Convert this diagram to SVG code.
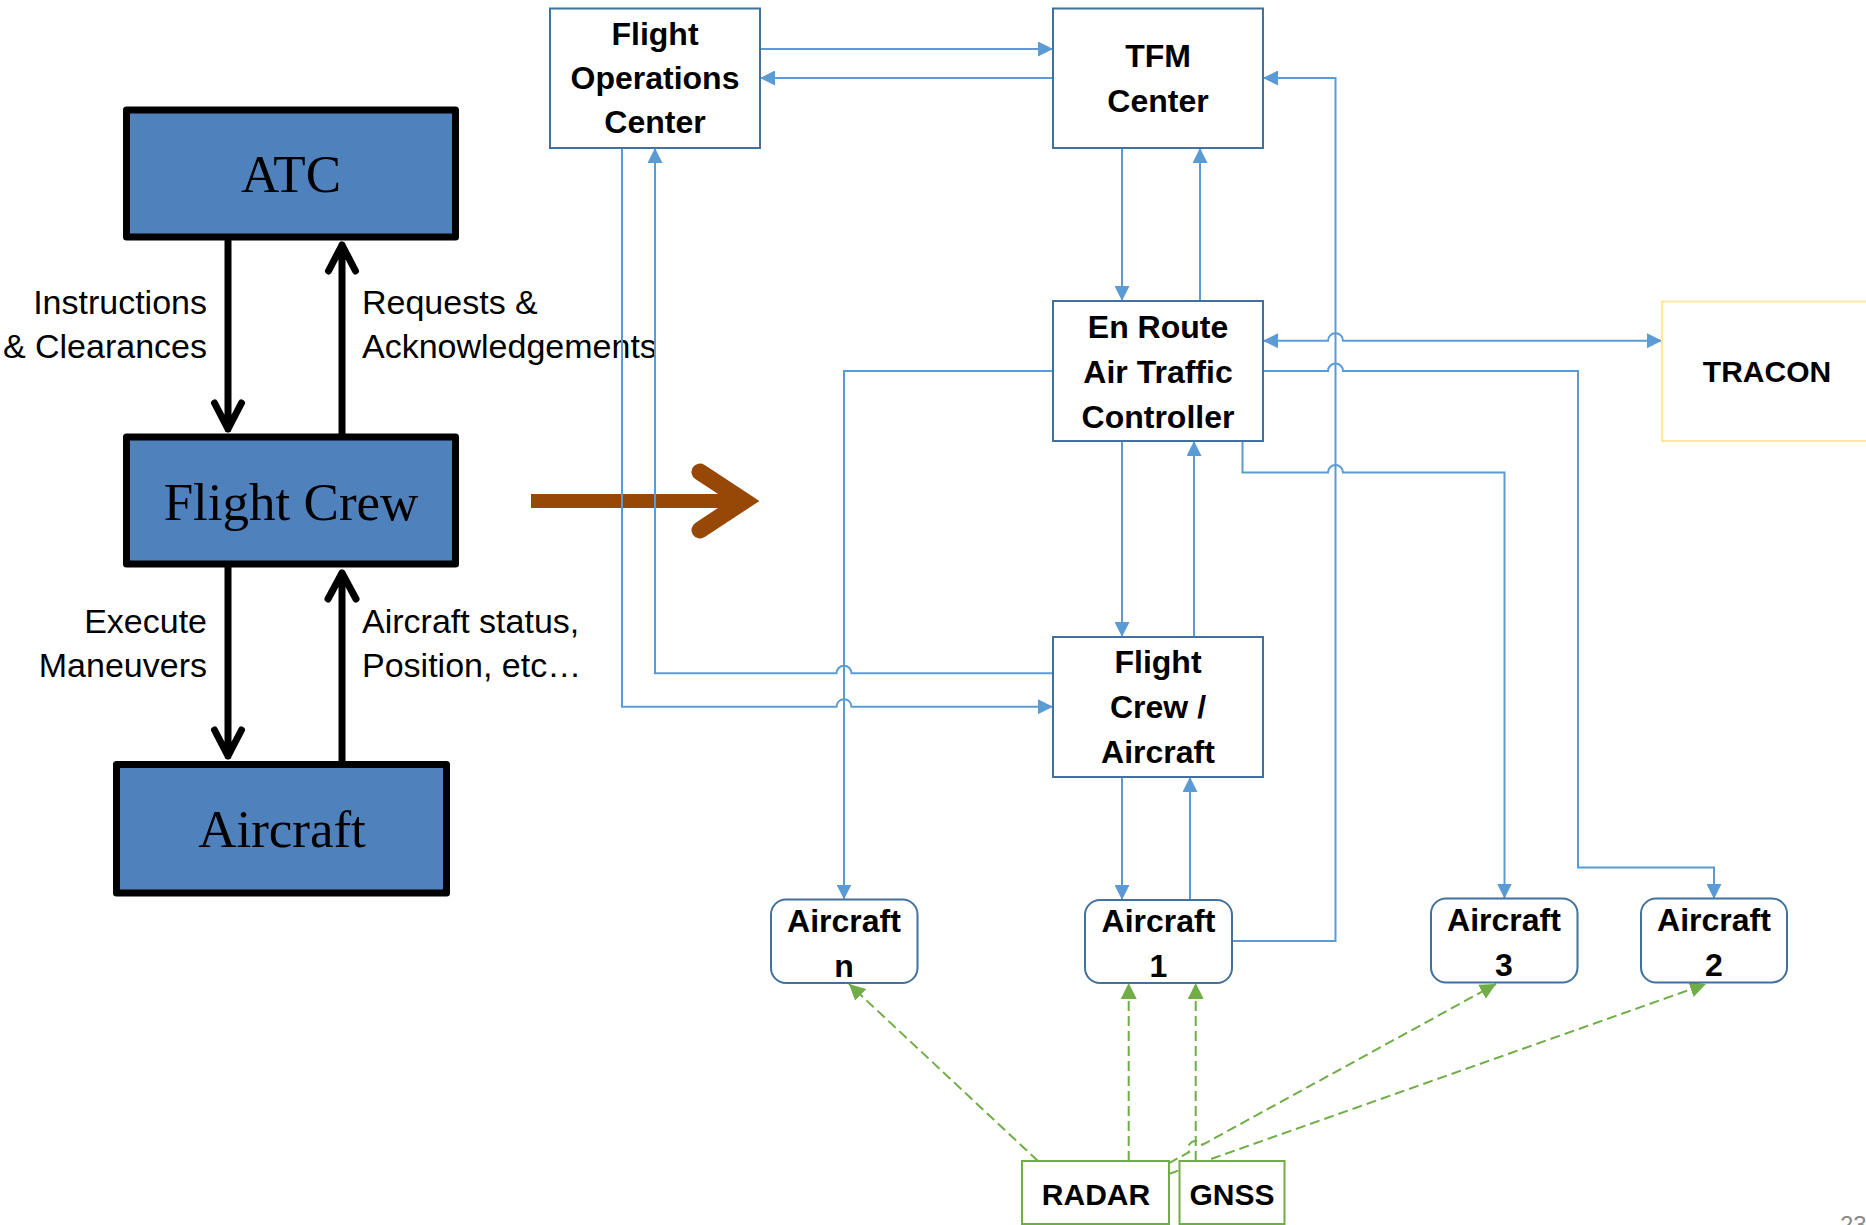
<svg xmlns="http://www.w3.org/2000/svg" width="1866" height="1225" viewBox="0 0 1866 1225">
<defs>
<style>
.lbl{font-family:"Liberation Sans",Arial,sans-serif;font-size:34px;fill:#000}
.serif{font-family:"Liberation Serif","Times New Roman",serif;font-size:53px;text-anchor:middle;fill:#000}
.bold{font-family:"Liberation Sans",Arial,sans-serif;font-weight:bold;font-size:32px;text-anchor:middle;fill:#000}
.bold30{font-family:"Liberation Sans",Arial,sans-serif;font-weight:bold;font-size:30px;text-anchor:middle;fill:#000}
.box{fill:#fff;stroke:#41719C;stroke-width:2}
.blk{fill:#4F81BD;stroke:#000;stroke-width:7;stroke-linejoin:round}
.karrow{fill:none;stroke:#000;stroke-width:7;stroke-linecap:round;stroke-linejoin:round}
.conn{fill:none;stroke:#5B9BD5;stroke-width:2}
.gconn{fill:none;stroke:#70AD47;stroke-width:2;stroke-dasharray:10 5}
.gbox{fill:#fff;stroke:#70AD47;stroke-width:2}
</style>
<marker id="ab" markerUnits="userSpaceOnUse" markerWidth="15" markerHeight="15" refX="15" refY="7.5" orient="auto-start-reverse">
<path d="M0,0 L15,7.5 L0,15 z" fill="#5B9BD5"/>
</marker>
<marker id="ag" markerUnits="userSpaceOnUse" markerWidth="16" markerHeight="16" refX="16" refY="8" orient="auto">
<path d="M0,0 L16,8 L0,16 z" fill="#70AD47"/>
</marker>
</defs>
<rect width="1866" height="1225" fill="#fff"/>

<!-- Left simple diagram -->
<g id="atc">
<rect class="blk" x="126.5" y="110" width="329" height="127"/>
<text class="serif" x="291" y="192">ATC</text>
</g>
<g id="flight-crew">
<rect class="blk" x="126.5" y="437" width="329" height="127"/>
<text class="serif" x="291" y="520">Flight Crew</text>
</g>
<g id="aircraft-left">
<rect class="blk" x="116.5" y="764.5" width="330" height="128.5"/>
<text class="serif" x="282" y="847">Aircraft</text>
</g>
<g id="left-connectors">
<path class="karrow" d="M228,240 V429 M214.5,403 L228,429 L241.5,403"/>
<path class="karrow" d="M342,434 V245 M328.5,271 L342,245 L355.5,271"/>
<path class="karrow" d="M228,567 V756 M214.5,730 L228,756 L241.5,730"/>
<path class="karrow" d="M342,761 V573 M328,599 L342,573 L356,599"/>
<text class="lbl" x="207" y="314" text-anchor="end">Instructions</text>
<text class="lbl" x="207" y="358" text-anchor="end">&amp; Clearances</text>
<text class="lbl" x="362" y="314">Requests &amp;</text>
<text class="lbl" x="362" y="358">Acknowledgements</text>
<text class="lbl" x="207" y="633" text-anchor="end">Execute</text>
<text class="lbl" x="207" y="677" text-anchor="end">Maneuvers</text>
<text class="lbl" x="362" y="633">Aircraft status,</text>
<text class="lbl" x="362" y="677">Position, etc…</text>
</g>

<!-- Transition arrow -->
<g id="transition-arrow">
<path d="M531,501 H745" fill="none" stroke="#974806" stroke-width="14"/>
<path d="M700,472 L744,501 L700,530" fill="none" stroke="#974806" stroke-width="17" stroke-linecap="round" stroke-linejoin="miter"/>
</g>

<!-- Connectors (drawn first so boxes cover ends) -->
<g id="connectors">
<path class="conn" d="M760,49 H1053" marker-end="url(#ab)"/>
<path class="conn" d="M1053,78 H760" marker-end="url(#ab)"/>
<path class="conn" d="M1122,148 V301" marker-end="url(#ab)"/>
<path class="conn" d="M1200,301 V148" marker-end="url(#ab)"/>
<path class="conn" d="M1122,441 V637" marker-end="url(#ab)"/>
<path class="conn" d="M1194,637 V441" marker-end="url(#ab)"/>
<path class="conn" d="M1122,777 V900" marker-end="url(#ab)"/>
<path class="conn" d="M1190,900 V777" marker-end="url(#ab)"/>
<path class="conn" d="M1232,941 H1335.5 V78 H1263" marker-end="url(#ab)"/>
<path class="conn" d="M1263,340.7 H1328 a7.5,7.5 0 0 1 15,0 H1662" marker-start="url(#ab)" marker-end="url(#ab)"/>
<path class="conn" d="M1263,371 H1328 a7.5,7.5 0 0 1 15,0 H1578 V867.5 H1714 V899" marker-end="url(#ab)"/>
<path class="conn" d="M1242.5,441 V472.5 H1328 a7.5,7.5 0 0 1 15,0 H1504.5 V898.5" marker-end="url(#ab)"/>
<path class="conn" d="M1053,371 H844 V899.5" marker-end="url(#ab)"/>
<path class="conn" d="M1053,673.3 H851.5 a7.5,7.5 0 0 0 -15,0 H655 V148" marker-end="url(#ab)"/>
<path class="conn" d="M622,148 V706.7 H836.5 a7.5,7.5 0 0 1 15,0 H1053" marker-end="url(#ab)"/>
<path class="gconn" d="M1038,1161 L849,984" marker-end="url(#ag)"/>
<path class="gconn" d="M1128.7,1161 V983" marker-end="url(#ag)"/>
<path class="gconn" d="M1195.7,1161 V983" marker-end="url(#ag)"/>
<path class="gconn" d="M1168.7,1163.3 L1189.1,1152.1 A7.5,7.5 0 0 1 1202.3,1144.9 L1496,984" marker-end="url(#ag)"/>
<path class="gconn" d="M1168.7,1174 L1706,984" marker-end="url(#ag)"/>
</g>

<!-- Right nodes -->
<g id="foc">
<rect class="box" x="550" y="8.5" width="210" height="139.5"/>
<text class="bold" x="655" y="45">Flight</text>
<text class="bold" x="655" y="89">Operations</text>
<text class="bold" x="655" y="133">Center</text>
</g>
<g id="tfm">
<rect class="box" x="1053" y="8.5" width="210" height="139.5"/>
<text class="bold" x="1158" y="67">TFM</text>
<text class="bold" x="1158" y="112">Center</text>
</g>
<g id="enroute">
<rect class="box" x="1053" y="301" width="210" height="140"/>
<text class="bold" x="1158" y="338">En Route</text>
<text class="bold" x="1158" y="383">Air Traffic</text>
<text class="bold" x="1158" y="428">Controller</text>
</g>
<g id="tracon">
<rect x="1662" y="301.5" width="220" height="139.5" fill="#fff" stroke="#FFE699" stroke-width="2"/>
<text class="bold30" x="1767" y="382">TRACON</text>
</g>
<g id="flightcrew-aircraft">
<rect class="box" x="1053" y="637" width="210" height="140"/>
<text class="bold" x="1158" y="673">Flight</text>
<text class="bold" x="1158" y="718">Crew /</text>
<text class="bold" x="1158" y="763">Aircraft</text>
</g>
<g id="aircraft-n">
<rect class="box" x="771" y="899.5" width="146.5" height="83.5" rx="15"/>
<text class="bold" x="844" y="931.5">Aircraft</text>
<text class="bold" x="844" y="976.5">n</text>
</g>
<g id="aircraft-1">
<rect class="box" x="1085" y="900" width="147" height="83" rx="15"/>
<text class="bold" x="1158.5" y="931.5">Aircraft</text>
<text class="bold" x="1158.5" y="976.5">1</text>
</g>
<g id="aircraft-3">
<rect class="box" x="1431" y="898.5" width="146.5" height="84" rx="15"/>
<text class="bold" x="1504" y="931">Aircraft</text>
<text class="bold" x="1504" y="976">3</text>
</g>
<g id="aircraft-2">
<rect class="box" x="1641" y="898.5" width="146" height="84" rx="15"/>
<text class="bold" x="1714" y="931">Aircraft</text>
<text class="bold" x="1714" y="976">2</text>
</g>
<g id="radar">
<rect class="gbox" x="1022" y="1161" width="147" height="63"/>
<text class="bold30" x="1096" y="1205">RADAR</text>
</g>
<g id="gnss">
<rect class="gbox" x="1179.5" y="1161" width="105" height="63"/>
<text class="bold30" x="1232" y="1205">GNSS</text>
</g>
<text x="1840" y="1233" font-family="'Liberation Sans',Arial,sans-serif" font-size="24" fill="#898989">23</text>
</svg>
